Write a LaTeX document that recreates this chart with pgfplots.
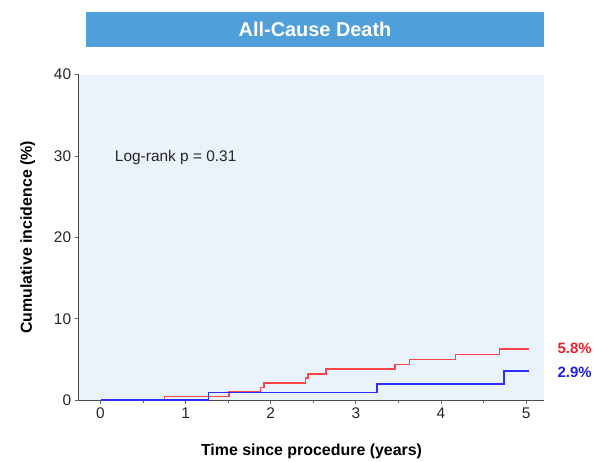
\documentclass[border=0pt]{standalone}
\usepackage{fontspec}
\setmainfont{Liberation Sans}
\usepackage{pgfplots}
\pgfplotsset{compat=1.18}
\definecolor{titlebox}{RGB}{80,158,218}
\definecolor{panelbg}{RGB}{234,242,251}
\definecolor{redline}{RGB}{255,70,70}
\definecolor{blueline}{RGB}{45,45,255}
\definecolor{redlab}{RGB}{240,30,40}
\definecolor{bluelab}{RGB}{30,30,230}
\begin{document}
\begin{tikzpicture}[x=1pt,y=1pt]
\path (0,0) rectangle (595,463);
\fill[titlebox] (86,416) rectangle (547,451);
\node[text=white,font=\fontsize{20}{24}\selectfont\bfseries] at (316.5,433.5) {All-Cause Death};
\begin{axis}[
  at={(79pt,61pt)}, anchor=south west,
  scale only axis, width=468pt, height=327pt,
  xmin=-0.257, xmax=5.216, ymin=0, ymax=40,
  axis background/.style={fill=panelbg},
  axis x line*=bottom, axis y line*=left,
  axis line style={draw=black!70, line width=0.8pt, -},
  xtick={0,1,2,3,4,5}, minor x tick num=1,
  ytick={0,10,20,30,40},
  tick align=outside,
  major tick length=4pt, minor tick length=3pt,
  tick style={draw=black!60, line width=0.7pt},
  /pgf/number format/assume math mode=true,
  tick label style={font=\fontsize{15.5}{18}\selectfont, text=black!85},
  xlabel={Time since procedure (years)},
  ylabel={Cumulative incidence (\%)},
  label style={font=\fontsize{16}{19}\selectfont\bfseries},
  xlabel style={at={(axis description cs:0.5,-0.156)}, anchor=center},
  ylabel style={at={(axis description cs:-0.109,0.5)}, anchor=center},
  clip=false,
]
\addplot[const plot, draw=redline, line width=1.4pt] coordinates {
 (0,0) (0.75,0.45) (1.51,1.0) (1.88,1.55) (1.92,2.08) (2.41,2.7) (2.44,3.2)
 (2.65,3.8) (3.46,4.4) (3.63,4.97) (4.17,5.6) (4.69,6.27) (5.03,6.27)};
\addplot[const plot, draw=blueline, line width=1.4pt] coordinates {
 (0,0) (1.27,0.94) (3.25,2.0) (4.74,3.6) (5.03,3.6)};
\node[anchor=west, font=\fontsize{15.5}{18}\selectfont, text=black!85] at (axis cs:0.129,29.85) {Log-rank p = 0.31};
\node[anchor=west, font=\fontsize{15}{18}\selectfont\bfseries, text=redlab] at (axis cs:5.33,6.36) {5.8\%};
\node[anchor=west, font=\fontsize{15}{18}\selectfont\bfseries, text=bluelab] at (axis cs:5.33,3.43) {2.9\%};
\end{axis}
\end{tikzpicture}
\end{document}
